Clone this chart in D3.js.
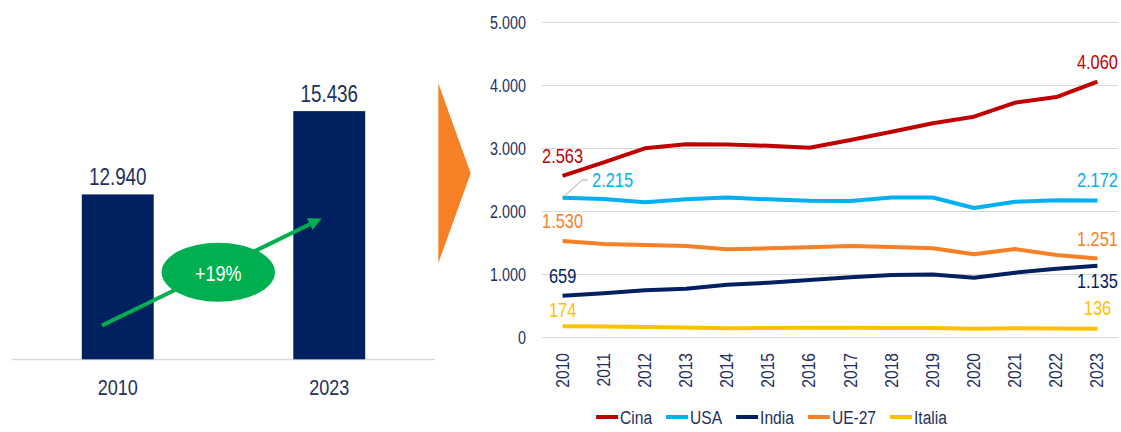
<!DOCTYPE html>
<html><head><meta charset="utf-8">
<script src="https://cdn.jsdelivr.net/npm/d3@7"></script>
<style>
html,body{margin:0;padding:0;background:#fff;}
svg{display:block;font-family:"Liberation Sans Narrow","Arial Narrow","Liberation Sans",Arial,sans-serif;}
</style></head>
<body>
<svg id="c" width="1121" height="432"></svg>
<script>
// ---- Left chart data ----
const totYears = ["2010", "2023"];
const totValues = [12940, 15436];
const growthLabel = "+19%";

// ---- Right chart data ----
const years = ["2010","2011","2012","2013","2014","2015","2016","2017","2018","2019","2020","2021","2022","2023"];
const seriesNames = ["Cina", "USA", "India", "UE-27", "Italia"];
const cina   = [2563, 2778, 3000, 3065, 3062, 3040, 3008, 3132, 3264, 3397, 3502, 3724, 3814, 4060];
const usa    = [2215, 2195, 2143, 2190, 2220, 2190, 2169, 2163, 2220, 2220, 2052, 2152, 2174, 2172];
const india  = [659, 698, 746, 772, 835, 867, 910, 952, 989, 995, 946, 1026, 1089, 1135];
const ue27   = [1530, 1481, 1465, 1449, 1397, 1412, 1428, 1449, 1433, 1412, 1317, 1401, 1306, 1251];
const italia = [174, 170, 163, 157, 145, 148, 150, 152, 148, 147, 135, 143, 139, 136];
const yTicks = [0, 1000, 2000, 3000, 4000, 5000];
const colors = ["#C00000", "#00B0F0", "#002060", "#F58025", "#FFC000"];

const fmt = v => d3.format(",")(v).replace(/,/g, ".");
const svg = d3.select("#c");
const navy = "#1F3060";
const SX = 0.82; // condensed-font emulation
const tr = (x, y, rot) => `translate(${x},${y})` + (rot ? ` rotate(${rot})` : "") + ` scale(${SX},1)`;

// ================= LEFT CHART =================
const xL = d3.scaleBand().domain(totYears).range([12, 435]).paddingInner(0.66).paddingOuter(0.33);
const yL = d3.scaleLinear().domain([8000, 16000]).range([359.3, 92.3]);

svg.append("line").attr("x1", 12).attr("x2", 435).attr("y1", 359.5).attr("y2", 359.5)
  .attr("stroke", "#D9D9D9").attr("stroke-width", 1.5);

const gl = svg.append("g");
gl.selectAll("rect").data(totValues).join("rect")
  .attr("x", (d, i) => xL(totYears[i]))
  .attr("width", xL.bandwidth())
  .attr("y", d => yL(d))
  .attr("height", d => yL(8000) - yL(d))
  .attr("fill", "#002060");
gl.selectAll("text.v").data(totValues).join("text").attr("class", "v")
  .attr("transform", (d, i) => tr(xL(totYears[i]) + xL.bandwidth() / 2, yL(d) - 9))
  .attr("text-anchor", "middle").attr("font-size", 23).attr("fill", navy)
  .text(d => fmt(d));
gl.selectAll("text.y").data(totYears).join("text").attr("class", "y")
  .attr("transform", d => tr(xL(d) + xL.bandwidth() / 2, 395))
  .attr("text-anchor", "middle").attr("font-size", 22).attr("fill", navy)
  .text(d => d);

// growth arrow
const ax1 = 102, ay1 = 325.5, ax2 = 321.5, ay2 = 218.5;
const ang = Math.atan2(ay2 - ay1, ax2 - ax1);
const hl = 13, hw = 6.5;
const bx = ax2 - hl * Math.cos(ang), by = ay2 - hl * Math.sin(ang);
svg.append("line").attr("x1", ax1).attr("y1", ay1).attr("x2", bx).attr("y2", by)
  .attr("stroke", "#00B050").attr("stroke-width", 4);
svg.append("path")
  .attr("d", `M${ax2},${ay2}L${bx - hw * Math.sin(ang)},${by + hw * Math.cos(ang)}L${bx + hw * Math.sin(ang)},${by - hw * Math.cos(ang)}Z`)
  .attr("fill", "#00B050");
svg.append("ellipse").attr("cx", 218.3).attr("cy", 272.2).attr("rx", 56.7).attr("ry", 29.5)
  .attr("fill", "#00B050");
svg.append("text").attr("transform", tr(218.3, 280.5)).attr("text-anchor", "middle")
  .attr("font-size", 22).attr("fill", "#fff").text(growthLabel);

// orange chevron
svg.append("path").attr("d", "M438.3,83.3L470.7,173.3L438.3,263.3Z").attr("fill", "#F58025");

// ================= RIGHT CHART =================
const x = d3.scaleBand().domain(years).range([542, 1118]);
const cx = d => x(d) + x.bandwidth() / 2;
const y = d3.scaleLinear().domain([0, 5000]).range([337.3, 22.3]);

const grid = svg.append("g");
grid.selectAll("line").data(yTicks).join("line")
  .attr("x1", 542).attr("x2", 1118)
  .attr("y1", d => Math.round(y(d)) + 0.5).attr("y2", d => Math.round(y(d)) + 0.5)
  .attr("stroke", "#D9D9D9").attr("stroke-width", 1);
grid.selectAll("text").data(yTicks).join("text")
  .attr("transform", d => tr(526, y(d))).attr("dy", "0.36em")
  .attr("text-anchor", "end").attr("font-size", 17.5).attr("fill", navy)
  .text(d => fmt(d));

// x axis labels (rotated)
svg.append("g").selectAll("text").data(years).join("text")
  .attr("transform", d => tr(cx(d) + 6, 353, -90))
  .attr("text-anchor", "end").attr("font-size", 19).attr("fill", navy)
  .text(d => d);

const allSeries = [cina, usa, india, ue27, italia];
const line = d3.line().x((d, i) => cx(years[i])).y(d => y(d));
svg.append("g").selectAll("path").data(allSeries).join("path")
  .attr("d", d => line(d)).attr("fill", "none")
  .attr("stroke", (d, i) => colors[i]).attr("stroke-width", 4)
  .attr("stroke-linejoin", "round");

// data labels
const last = years.length - 1;
const labels = [
  // [seriesIndex, pointIndex, dx, dy, anchor]
  [0, 0, 0, -12.5, "middle"],
  [0, last, 0, -13, "middle"],
  [1, 0, 29.5, -11, "start"],
  [1, last, 0, -13, "middle"],
  [2, 0, 0, -13, "middle"],
  [2, last, 0, 22.5, "middle"],
  [3, 0, 0, -12.5, "middle"],
  [3, last, 0, -12.5, "middle"],
  [4, 0, 0, -9.5, "middle"],
  [4, last, 0, -13.5, "middle"]
];
svg.append("g").selectAll("text").data(labels).join("text")
  .attr("transform", d => tr(cx(years[d[1]]) + d[2], y(allSeries[d[0]][d[1]]) + d[3]))
  .attr("text-anchor", d => d[4]).attr("font-size", 20)
  .attr("fill", d => colors[d[0]])
  .text(d => fmt(allSeries[d[0]][d[1]]));

// leader line for USA 2010 label
const p0x = cx(years[0]), p0y = y(usa[0]);
svg.append("path")
  .attr("d", `M${p0x},${p0y}L${p0x + 19.5},${p0y - 17.7}L${p0x + 25},${p0y - 17.7}`)
  .attr("fill", "none").attr("stroke", "#A6A6A6").attr("stroke-width", 1);

// legend
const lg = svg.append("g");
const items = lg.selectAll("g").data(seriesNames).join("g");
items.append("line").attr("x1", 0).attr("x2", 22).attr("y1", 0).attr("y2", 0)
  .attr("stroke", (d, i) => colors[i]).attr("stroke-width", 4);
items.append("text").attr("transform", tr(24, 0)).attr("dy", "0.36em")
  .attr("font-size", 19).attr("fill", navy).text(d => d);
let widths = [];
items.each(function () { widths.push(d3.select(this).select("text").node().getComputedTextLength() * SX + 24); });
const gap = 14;
const total = d3.sum(widths) + gap * (widths.length - 1);
let xpos = 771.5 - total / 2;
items.attr("transform", (d, i) => { const t = `translate(${xpos},417)`; xpos += widths[i] + gap; return t; });
</script>
</body></html>
